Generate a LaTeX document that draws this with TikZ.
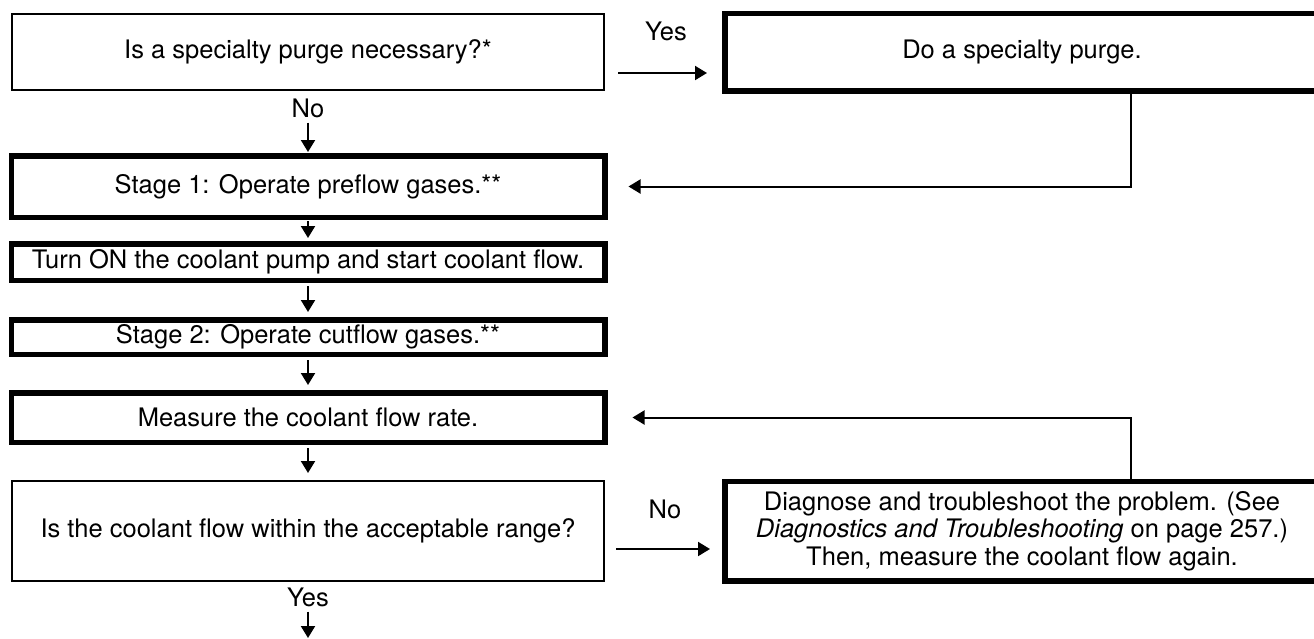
\documentclass[tikz,border=0pt]{standalone}
\usepackage{fontspec}
\setmainfont{TeX Gyre Heros}
\usetikzlibrary{arrows.meta,positioning}

\begin{document}
\begin{tikzpicture}[
  x=1pt, y=-1pt,
  font=\fontsize{25.5}{27.5}\selectfont,
  bx/.style={draw, align=center, inner sep=0pt},
  thin/.style={bx, line width=2pt, minimum width=592pt},
  thick/.style={bx, line width=5.5pt, minimum width=593.5pt},
  side/.style={bx, line width=5.5pt, minimum width=594.5pt},
  arr/.style={-{Triangle[length=12pt,width=14pt]}, line width=2pt},
  flow/.style={arr, shorten <=3pt, shorten >=5pt},
  lbl/.style={inner sep=3pt, anchor=base}
]
\useasboundingbox (0,0) rectangle (1314,638);
\clip (0,0) rectangle (1314,638);

% left column
\node[thin, minimum height=76pt] (q1) at (308,52) {Is a specialty purge necessary?*};
\node[thick, minimum height=61.5pt, below=62pt of q1] (stage1) {Stage 1: Operate preflow gases.**};
\node[thick, minimum height=36.5pt, below=21pt of stage1] (pump) {Turn ON the coolant pump and start coolant flow.};
\node[thick, minimum height=34.5pt, below=34pt of pump] (stage2) {Stage 2: Operate cutflow gases.**};
\node[thick, minimum height=49.5pt, below=33pt of stage2] (measure) {Measure the coolant flow rate.};
\node[thin, minimum height=100pt, below=35pt of measure] (q2) {Is the coolant flow within the acceptable range?};

% right column
\node[side, minimum height=77.5pt, right=117pt of q1] (purge) {Do a specialty purge.};
\node[side, minimum height=99.5pt, right=117pt of q2] (diag) {Diagnose and troubleshoot the problem. (See\\
  \textit{Diagnostics and Troubleshooting} on page 257.)\\
  Then, measure the coolant flow again.};

% labels
\node[lbl] (no1) at (308,117) {No};
\node[lbl] (yes1) at (666,40) {Yes};
\node[lbl] (no2) at (665,518) {No};
\node[lbl] (yes2) at (308,606) {Yes};
\coordinate (out) at (308,638);

\draw[arr, shorten <=2pt, shorten >=1pt] (no1) -- (stage1);
\draw[arr, shorten <=1pt, shorten >=3pt] (stage1) -- (pump);
\draw[flow] (pump) -- (stage2);
\draw[flow] (stage2) -- (measure);
\draw[flow, shorten >=7pt] (measure) -- (q2);
\draw[arr, shorten <=2pt] (yes2) -- (out);
\draw[arr, shorten <=13pt, shorten >=15pt] ([yshift=-21pt]q1.east) -- ([yshift=-21pt]purge.west);
\draw[arr, shorten <=11pt, shorten >=12pt] ([yshift=-18pt]q2.east) -- ([yshift=-18pt]diag.west);
\draw[arr, shorten >=21pt] ([xshift=109pt]purge.south) |- (stage1.east);
\draw[arr, shorten >=25pt] ([xshift=109pt]diag.north) |- (measure.east);
\end{tikzpicture}
\end{document}
